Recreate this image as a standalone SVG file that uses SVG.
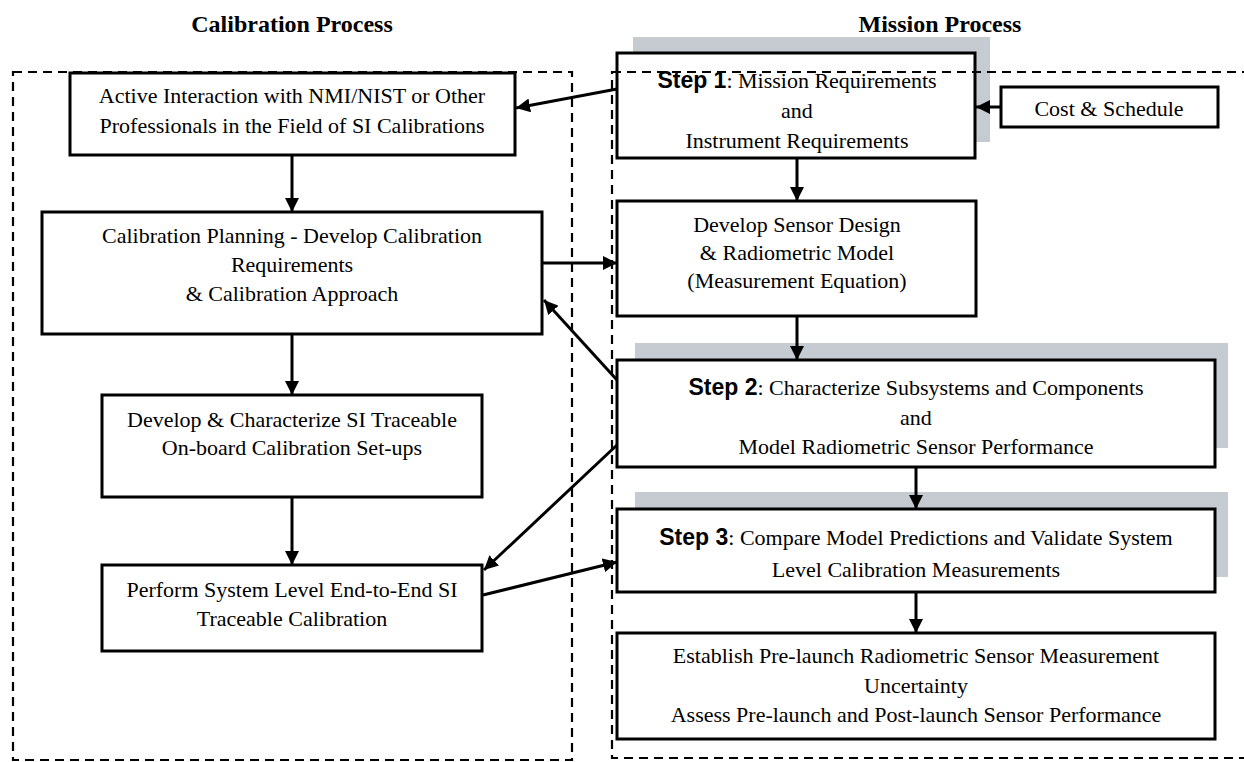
<svg xmlns="http://www.w3.org/2000/svg" width="1244" height="762" viewBox="0 0 1244 762">
<defs>
<marker id="ah" markerUnits="userSpaceOnUse" markerWidth="14" markerHeight="14" refX="14" refY="7" orient="auto">
<path d="M0,0 L14,7 L0,14 z" fill="#000"/>
</marker>
<style>
.box{fill:#fff;stroke:#000;stroke-width:3}
.sh{fill:#c5cbd0}
.cont{fill:none;stroke:#000;stroke-width:2.2;stroke-dasharray:9,6}
.t{font-family:"Liberation Serif","Times New Roman",serif;font-size:22px;fill:#000;text-anchor:middle}
.st{font-family:"Liberation Sans",Arial,sans-serif;font-weight:bold;font-size:23px}
.title{font-family:"Liberation Serif","Times New Roman",serif;font-size:24px;font-weight:bold;text-anchor:middle}
.c{fill:none;stroke:#000;stroke-width:3;marker-end:url(#ah)}
</style>
</defs>
<text class="title" x="292" y="32">Calibration Process</text>
<text class="title" x="940" y="32">Mission Process</text>

<g id="shadows">
<rect class="sh" x="633" y="37" width="357" height="105"/>
<rect class="sh" x="635" y="343" width="593" height="105"/>
<rect class="sh" x="635" y="492" width="593" height="85"/>
</g>

<g id="n-active">
<rect class="box" x="70" y="73" width="445" height="82"/>
<text class="t" x="292" y="103">Active Interaction with NMI/NIST or Other</text>
<text class="t" x="292" y="133">Professionals in the Field of SI Calibrations</text>
</g>
<g id="n-calplan">
<rect class="box" x="42" y="212" width="500" height="122"/>
<text class="t" x="292" y="243">Calibration Planning - Develop Calibration</text>
<text class="t" x="292" y="272">Requirements</text>
<text class="t" x="292" y="301">&amp; Calibration Approach</text>
</g>
<g id="n-devchar">
<rect class="box" x="102" y="395" width="380" height="102"/>
<text class="t" x="292" y="427">Develop &amp; Characterize SI Traceable</text>
<text class="t" x="292" y="455">On-board Calibration Set-ups</text>
</g>
<g id="n-perform">
<rect class="box" x="102" y="565" width="380" height="86"/>
<text class="t" x="292" y="597">Perform System Level End-to-End SI</text>
<text class="t" x="292" y="626">Traceable Calibration</text>
</g>
<g id="n-step1">
<rect class="box" x="617" y="53" width="358" height="105"/>
<text class="t" x="797" y="88"><tspan class="st">Step 1</tspan>: Mission Requirements</text>
<text class="t" x="797" y="118">and</text>
<text class="t" x="797" y="148">Instrument Requirements</text>
</g>
<g id="n-cost">
<rect class="box" x="1001" y="87" width="217" height="40"/>
<text class="t" x="1109" y="116">Cost &amp; Schedule</text>
</g>
<g id="n-devsensor">
<rect class="box" x="617" y="201" width="359" height="115"/>
<text class="t" x="797" y="232">Develop Sensor Design</text>
<text class="t" x="797" y="260">&amp; Radiometric Model</text>
<text class="t" x="797" y="288">(Measurement Equation)</text>
</g>
<g id="n-step2">
<rect class="box" x="617" y="360" width="598" height="107"/>
<text class="t" x="916" y="395"><tspan class="st">Step 2</tspan>: Characterize Subsystems and Components</text>
<text class="t" x="916" y="425">and</text>
<text class="t" x="916" y="454">Model Radiometric Sensor Performance</text>
</g>
<g id="n-step3">
<rect class="box" x="617" y="509" width="598" height="83"/>
<text class="t" x="916" y="545"><tspan class="st">Step 3</tspan>: Compare Model Predictions and Validate System</text>
<text class="t" x="916" y="577">Level Calibration Measurements</text>
</g>
<g id="n-establish">
<rect class="box" x="617" y="633" width="598" height="106"/>
<text class="t" x="916" y="663">Establish Pre-launch Radiometric Sensor Measurement</text>
<text class="t" x="916" y="693">Uncertainty</text>
<text class="t" x="916" y="722">Assess Pre-launch and Post-launch Sensor Performance</text>
</g>

<g id="containers">
<rect class="cont" x="13" y="72" width="559" height="688"/>
<rect class="cont" x="612" y="72" width="650" height="686"/>
</g>

<g id="connectors">
<path class="c" d="M292,155 L292,212"/>
<path class="c" d="M292,334 L292,395"/>
<path class="c" d="M292,497 L292,565"/>
<path class="c" d="M617,89 L516,108"/>
<path class="c" d="M1001,107 L976,107"/>
<path class="c" d="M797,158 L797,201"/>
<path class="c" d="M542,263 L617,263"/>
<path class="c" d="M617,380 L544,300"/>
<path class="c" d="M797,316 L797,360"/>
<path class="c" d="M617,445 L484,570"/>
<path class="c" d="M483,595 L617,562"/>
<path class="c" d="M916,467 L916,509"/>
<path class="c" d="M916,592 L916,633"/>
</g>
</svg>
